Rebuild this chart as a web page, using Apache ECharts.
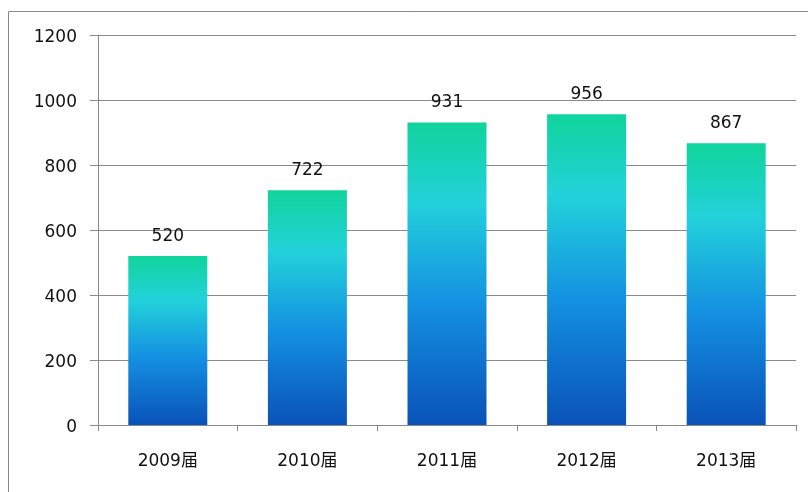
<!DOCTYPE html>
<html><head><meta charset="utf-8">
<script src="https://cdn.jsdelivr.net/npm/echarts@6/dist/echarts.min.js"></script>
<style>html,body{margin:0;padding:0;background:#fff}#c{width:808px;height:492px}</style>
</head><body><div id="c"></div>
<script>
const categories = ['2009届','2010届','2011届','2012届','2013届'];
const values = [520, 722, 931, 956, 867];
const yTicks = {min:0, max:1200, interval:200};

const chart = echarts.init(document.getElementById('c'));
const font = '"DejaVu Sans", "Noto Sans CJK SC", sans-serif';
chart.setOption({
  animation:false,
  backgroundColor:'#fff',
  graphic:[{type:'rect', shape:{x:8.5,y:11.5,width:830,height:520}, style:{fill:'none',stroke:'#8a8a8a',lineWidth:1}, silent:true, z:-1}],
  grid:{left:98, top:35, right:12, bottom:67},
  xAxis:{type:'category', data:categories,
    axisLine:{lineStyle:{color:'#888',width:1}},
    axisTick:{show:true, alignWithLabel:false, length:6, lineStyle:{color:'#888'}},
    axisLabel:{color:'#111', fontSize:17, fontFamily:font, margin:28}},
  yAxis:{type:'value', min:yTicks.min, max:yTicks.max, interval:yTicks.interval,
    axisLine:{show:true, lineStyle:{color:'#888'}},
    axisTick:{show:true, length:8, lineStyle:{color:'#888'}},
    splitLine:{lineStyle:{color:'#8a8a8a',width:1}},
    axisLabel:{color:'#111', fontSize:17, fontFamily:font, margin:21,
      formatter:v=>'{a|'+v+'}',
      rich:{a:{color:'#111', fontSize:17, fontFamily:font, padding:[6,0,0,0]}}}},
  series:[{type:'bar', data:values, barWidth:79,
    itemStyle:{color:new echarts.graphic.LinearGradient(0,0,0,1,[
      {offset:0,color:'#10d49c'},{offset:0.26,color:'#22d2da'},
      {offset:0.6,color:'#1490e2'},{offset:1,color:'#0a52b8'}])},
    label:{show:true, position:'top', distance:11, color:'#111', fontSize:17, fontFamily:font}}]
});
</script></body></html>
